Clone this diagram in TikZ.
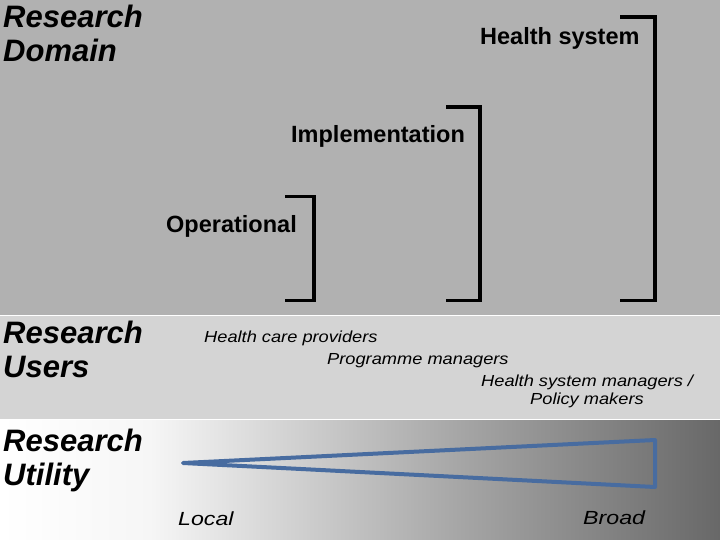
\documentclass[tikz,border=0pt]{standalone}
\usepackage{fontspec}
\setmainfont{Liberation Sans}
\usepackage{graphicx}
\definecolor{topgrey}{RGB}{177,177,177}
\definecolor{midgrey}{RGB}{212,212,212}
\definecolor{g1}{RGB}{246,246,246}
\definecolor{g2}{RGB}{168,168,168}
\definecolor{g3}{RGB}{104,104,104}
\definecolor{triblue}{RGB}{72,108,160}
\tikzset{
  head/.style={anchor=base west, inner sep=0pt, font=\fontsize{31pt}{34pt}\selectfont\bfseries\itshape},
  domlabel/.style={anchor=base west, inner sep=0pt, font=\fontsize{23.5pt}{26pt}\selectfont\bfseries},
  userlabel/.style={anchor=base west, inner sep=0pt, font=\fontsize{16pt}{18pt}\selectfont\itshape},
  scalelabel/.style={anchor=base west, inner sep=0pt, font=\fontsize{19pt}{21pt}\selectfont\itshape},
  bracket/.style={line width=3.5pt, black},
  wedge/.style={line width=4pt, triblue, line join=round}
}
\begin{document}
\begin{tikzpicture}[x=1pt,y=-1pt]
\useasboundingbox (0,0) rectangle (720,540);
% bands
\fill[topgrey] (0,0) rectangle (720,315);
\fill[midgrey] (0,316) rectangle (720,419);
\shade[left color=white, right color=g1] (0,420) rectangle (150.5,540);
\shade[left color=g1, right color=g2] (150,420) rectangle (450.5,540);
\shade[left color=g2, right color=g3] (450,420) rectangle (720,540);

% headings
\node[head] (rd1) at (3,28) {Research};
\node[head] (rd2) at (3,62) {Domain};
\node[head] (ru1) at (3,343) {Research};
\node[head] (ru2) at (3,377) {Users};
\node[head] (rt1) at (3,451) {Research};
\node[head] (rt2) at (3,485) {Utility};

% domain labels
\node[domlabel] (hs) at (480,45) {Health system};
\node[domlabel] (im) at (291,143) {Implementation};
\node[domlabel] (op) at (166,232.5) {Operational};

% brackets
\coordinate (b1a) at (285,196.5);
\coordinate (b1b) at (314,196.5);
\coordinate (b1c) at (314,300.5);
\coordinate (b1d) at (285,300.5);
\draw[bracket] (b1a) -- (b1b) -- (b1c) -- (b1d);
\coordinate (b2a) at (446,107);
\coordinate (b2b) at (480,107);
\coordinate (b2c) at (480,300.5);
\coordinate (b2d) at (446,300.5);
\draw[bracket] (b2a) -- (b2b) -- (b2c) -- (b2d);
\coordinate (b3a) at (620,17);
\coordinate (b3b) at (655,17);
\coordinate (b3c) at (655,300.5);
\coordinate (b3d) at (620,300.5);
\draw[bracket] (b3a) -- (b3b) -- (b3c) -- (b3d);

% users
\node[userlabel] (u1) at (204,342.5) {\scalebox{1.14}[1]{Health care providers}};
\node[userlabel] (u2) at (327,364.5) {\scalebox{1.14}[1]{Programme managers}};
\node[userlabel] (u3) at (481,386) {\scalebox{1.14}[1]{Health system managers /}};
\node[userlabel] (u4) at (530,404) {\scalebox{1.14}[1]{Policy makers}};

% utility wedge
\coordinate (tip) at (183,463);
\coordinate (tr) at (655,440);
\coordinate (br) at (655,487);
\draw[wedge] (tip) -- (tr) -- (br) -- cycle;

\node[scalelabel] (loc) at (178,525) {\scalebox{1.22}[1]{Local}};
\node[scalelabel] (bro) at (583,524) {\scalebox{1.22}[1]{Broad}};
\end{tikzpicture}
\end{document}
